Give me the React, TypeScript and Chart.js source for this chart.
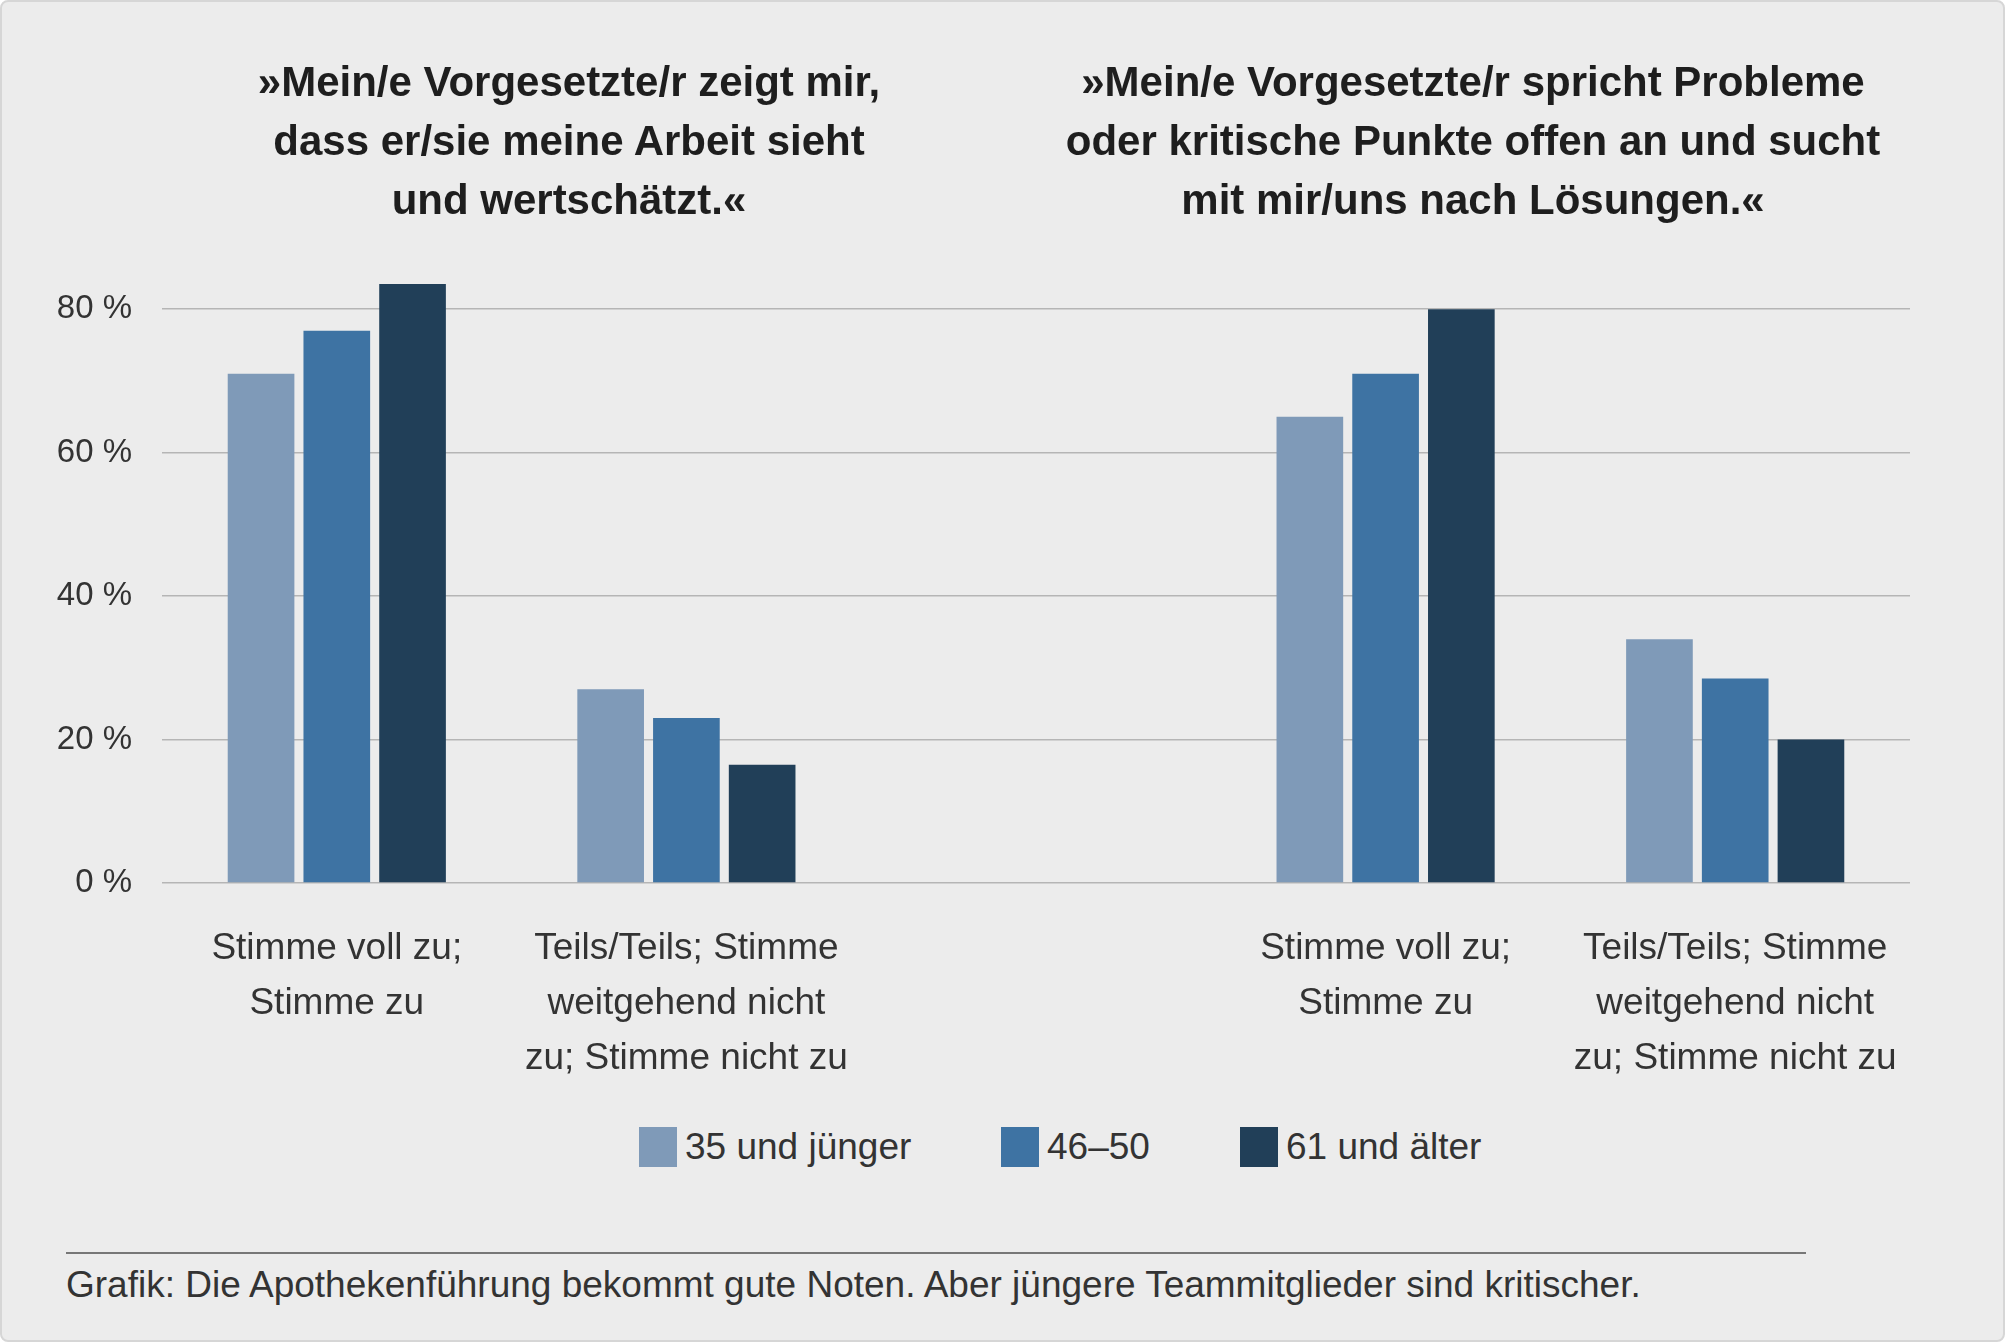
import React, { useEffect, useRef } from "react";
import { Chart, registerables } from "chart.js";
Chart.register(...registerables);

const categories = [
  ["Stimme voll zu;", "Stimme zu"],
  ["Teils/Teils; Stimme", "weitgehend nicht", "zu; Stimme nicht zu"],
  [""],
  ["Stimme voll zu;", "Stimme zu"],
  ["Teils/Teils; Stimme", "weitgehend nicht", "zu; Stimme nicht zu"],
];
const seriesNames = ["35 und jünger", "46–50", "61 und älter"];
const young = [71, 27, null, 65, 34];
const mid = [77, 23, null, 71, 28.5];
const old = [83.5, 16.5, null, 80, 20];
const colors = ["#7f9ab8", "#3e73a3", "#213f58"];
const titles = [
  ["»Mein/e Vorgesetzte/r zeigt mir,", "dass er/sie meine Arbeit sieht", "und wertschätzt.«"],
  ["»Mein/e Vorgesetzte/r spricht Probleme", "oder kritische Punkte offen an und sucht", "mit mir/uns nach Lösungen.«"],
];
const FONT = "'Liberation Sans', Arial, sans-serif";

export default function App() {
  const ref = useRef<HTMLCanvasElement>(null);
  useEffect(() => {
    document.body.style.margin = "0";
    const c = new Chart(ref.current!, {
      type: "bar",
      data: {
        labels: categories,
        datasets: [young, mid, old].map((d, i) => ({
          label: seriesNames[i], data: d, backgroundColor: colors[i],
          categoryPercentage: 0.65, barPercentage: 0.88,
        })),
      },
      options: {
        animation: false, responsive: false,
        layout: { padding: { top: 35, right: 32, left: 0, bottom: 0 } },
        plugins: { legend: { display: false }, tooltip: { enabled: false } },
        scales: {
          y: {
            min: 0, max: 88,
            ticks: { stepSize: 20, color: "#333", font: { family: FONT, size: 33 }, padding: 30, callback: (v: any) => v + " %" },
            afterBuildTicks: (s: any) => { s.ticks = s.ticks.filter((t: any) => t.value % 20 === 0); },
            afterFit: (s: any) => { s.width = 160; },
            grid: { color: "#b5b5b5", lineWidth: 1.5, drawTicks: false },
            border: { display: false },
          },
          x: {
            ticks: { color: "#333", font: { family: FONT, size: 37, lineHeight: 1.49 }, padding: 30, maxRotation: 0, autoSkip: false },
            afterFit: (s: any) => { s.height = 200; },
            grid: { display: false },
            border: { display: false },
          },
        },
      },
    });
    return () => c.destroy();
  }, []);
  return (
    <div style={{ position: "relative", width: 2005, height: 1342, background: "#ececec", border: "2px solid #d6d6d6", borderRadius: 8, boxSizing: "border-box", fontFamily: FONT, color: "#222", overflow: "hidden" }}>
      <canvas ref={ref} width={1940} height={881} style={{ position: "absolute", left: 0, top: 200, width: 1940, height: 881 }} />
      {titles.map((t, i) => (
        <div key={i} style={{ position: "absolute", top: 50, left: (i === 0 ? 567 : 1471) - 500, width: 1000, textAlign: "center", fontWeight: "bold", fontSize: 42, lineHeight: "59px", color: "#1e1e1e" }}>
          {t.map((l, j) => <div key={j}>{l}</div>)}
        </div>
      ))}
      <div style={{ position: "absolute", top: 1124, left: 0, width: 2005, height: 44 }}>
        {seriesNames.map((n, i) => (
          <div key={i} style={{ position: "absolute", left: [637, 999, 1238][i], top: 0, display: "flex", alignItems: "center", fontSize: 37, color: "#333" }}>
            <span style={{ display: "inline-block", width: 38, height: 40, background: colors[i], marginRight: 8 }} />{n}
          </div>
        ))}
      </div>
      <div style={{ position: "absolute", left: 64, top: 1250, width: 1740, borderTop: "2px solid #777" }} />
      <div style={{ position: "absolute", left: 64, top: 1262, fontSize: 37, color: "#333" }}>Grafik: Die Apothekenführung bekommt gute Noten. Aber jüngere Teammitglieder sind kritischer.</div>
    </div>
  );
}
